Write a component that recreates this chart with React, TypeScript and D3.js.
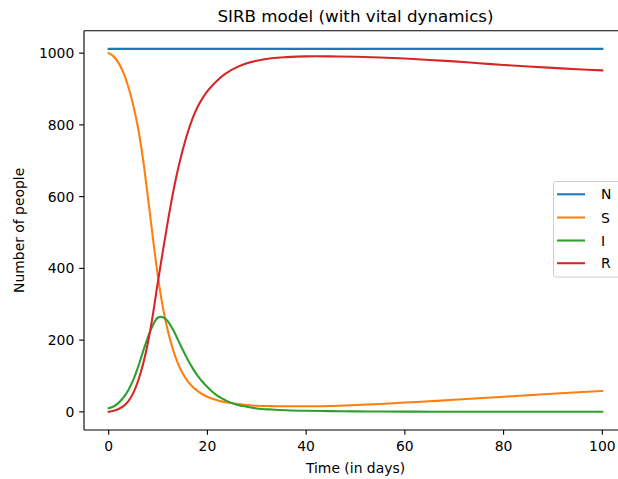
import React from "react";
import * as d3 from "d3";

// Sample days for the S, I and R compartments
const days = [
  0, 1, 2, 3, 4, 5, 6, 7, 8, 9, 10, 11, 12, 13, 14, 15, 16, 17, 18, 19, 20, 21, 22, 23, 24,
  26, 28, 30, 33, 36, 40, 45, 50, 55, 60, 65, 70, 75, 80, 85, 90, 95, 100,
];

const susceptible = [
  1000, 991, 973, 945, 905, 853, 788, 700, 592, 480, 375, 290, 225, 175, 136, 107, 86, 70, 58, 49, 42, 36.5, 32, 28.5, 26,
  22, 19, 17, 16, 15.5, 15.5, 16.5, 19, 22, 26, 29.5, 33.5, 38, 42, 46.5, 50.5, 54.5, 58,
];

const infected = [
  10, 15, 25, 40, 61, 90, 127, 170, 210, 243, 263, 264, 252, 230, 202, 173, 146, 122, 101, 84, 69, 56, 45, 37, 30,
  20, 14, 9.5, 6.5, 4.5, 3, 2, 1.3, 0.9, 0.6, 0.45, 0.35, 0.3, 0.25, 0.2, 0.2, 0.2, 0.2,
];

const recovered = [
  0, 3, 8, 16, 30, 53, 88, 135, 196, 275, 365, 450, 532, 608, 674, 730, 778, 818, 850, 874, 894, 910, 924, 936, 946,
  961, 972, 979, 986, 989, 991, 991, 990, 988, 985, 981, 977, 972, 967, 963, 959, 955, 952,
];

// Total population stays constant
const totalDays = [0, 100];
const totalValues = [1012, 1012];

const xTicks = [0, 20, 40, 60, 80, 100];
const yTicks = [0, 200, 400, 600, 800, 1000];

const seriesNames = ["N", "S", "I", "R"];
const seriesColors = ["#1f77b4", "#ff7f0e", "#2ca02c", "#d62728"];

const W = 618;
const H = 479;
const left = 84;
const top = 30.7;
const bottom = 430;
const right = 627;
const font = "'DejaVu Sans', sans-serif";

export default function App() {
  const x = d3.scaleLinear().domain([-5, 105]).range([left, right]);
  const y = d3.scaleLinear().domain([-50.6, 1062.6]).range([bottom, top]);

  const line = d3
    .line<[number, number]>()
    .x((d) => x(d[0]))
    .y((d) => y(d[1]))
    .curve(d3.curveCatmullRom.alpha(0.5));

  const zip = (xs: number[], ys: number[]) => xs.map((d, i) => [d, ys[i]] as [number, number]);
  const series = [
    zip(totalDays, totalValues),
    zip(days, susceptible),
    zip(days, infected),
    zip(days, recovered),
  ];

  const tickLen = 4.86;
  const fs = 13.9;

  const legendLeft = 553.5;
  const legendTop = 181.5;
  const legendRight = 622;
  const legendBottom = 277;
  const entryY = [194.3, 217.5, 240.5, 263.2];

  return (
    <svg
      width={W}
      height={H}
      style={{ position: "absolute", left: 0, top: 0, background: "#fff" }}
      fontFamily={font}
    >
      <rect x={0} y={0} width={W} height={H} fill="#fff" />
      <defs>
        <clipPath id="plot-area">
          <rect x={left} y={top} width={right - left} height={bottom - top} />
        </clipPath>
      </defs>

      {/* Title */}
      <text x={(left + right) / 2} y={22} textAnchor="middle" fontSize={16.7} fill="#000">
        SIRB model (with vital dynamics)
      </text>

      {/* Curves */}
      <g clipPath="url(#plot-area)">
        {series.map((s, i) => (
          <path
            key={seriesNames[i]}
            d={line(s) ?? ""}
            fill="none"
            stroke={seriesColors[i]}
            strokeWidth={2.08}
            strokeLinejoin="round"
            strokeLinecap="square"
          />
        ))}
      </g>

      {/* Spines */}
      <g stroke="#000" strokeWidth={1.1} fill="none">
        <line x1={left} y1={top} x2={left} y2={bottom} />
        <line x1={left} y1={bottom} x2={right} y2={bottom} />
        <line x1={left} y1={top} x2={right} y2={top} />
        <line x1={right} y1={top} x2={right} y2={bottom} />
      </g>

      {/* X axis ticks */}
      {xTicks.map((t) => (
        <g key={`x${t}`}>
          <line x1={x(t)} x2={x(t)} y1={bottom} y2={bottom + tickLen} stroke="#000" strokeWidth={1.1} />
          <text x={x(t)} y={bottom + 21} textAnchor="middle" fontSize={fs} fill="#000">
            {t}
          </text>
        </g>
      ))}

      {/* Y axis ticks */}
      {yTicks.map((t) => (
        <g key={`y${t}`}>
          <line x1={left - tickLen} x2={left} y1={y(t)} y2={y(t)} stroke="#000" strokeWidth={1.1} />
          <text x={left - 2 * tickLen} y={y(t) + 5} textAnchor="end" fontSize={fs} fill="#000">
            {t}
          </text>
        </g>
      ))}

      {/* Axis labels */}
      <text x={(left + right) / 2} y={473} textAnchor="middle" fontSize={fs} fill="#000">
        Time (in days)
      </text>
      <text
        transform={`translate(24, ${(top + bottom) / 2}) rotate(-90)`}
        textAnchor="middle"
        fontSize={fs}
        fill="#000"
      >
        Number of people
      </text>

      {/* Legend */}
      <rect
        x={legendLeft}
        y={legendTop}
        width={legendRight - legendLeft}
        height={legendBottom - legendTop}
        rx={2.5}
        fill="#fff"
        fillOpacity={0.8}
        stroke="#cccccc"
        strokeWidth={1}
      />
      {seriesNames.map((name, i) => (
        <g key={`leg${name}`}>
          <line
            x1={557}
            x2={585}
            y1={entryY[i]}
            y2={entryY[i]}
            stroke={seriesColors[i]}
            strokeWidth={2.08}
          />
          <text x={601} y={entryY[i] + 5} fontSize={fs} fill="#000">
            {name}
          </text>
        </g>
      ))}
    </svg>
  );
}
